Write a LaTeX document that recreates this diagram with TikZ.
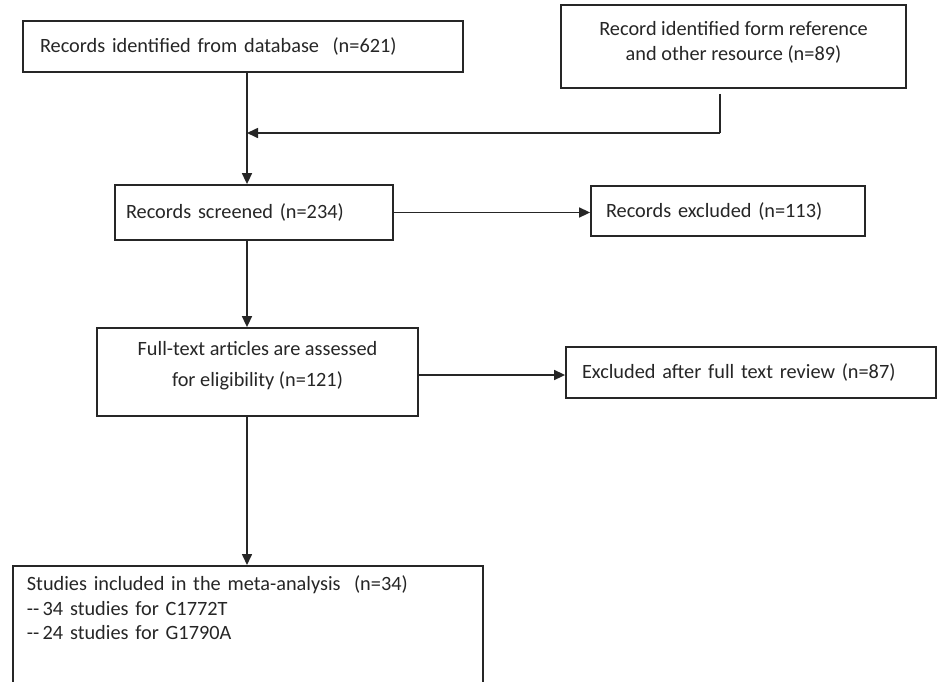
\documentclass[tikz,border=0pt]{standalone}
\usepackage{fontspec}
\setmainfont{Carlito}
\usepackage{tikz}
\usetikzlibrary{arrows.meta}
\definecolor{ink}{HTML}{262626}
\tikzstyle{box} = [rectangle, draw=ink, line width=1.8pt, inner ysep=0pt, text=ink, font=\fontsize{20.3}{24.5}\selectfont]
\tikzstyle{arrow} = [draw=ink, line width=1.6pt, -{Triangle[length=11pt,width=10pt]}]

\begin{document}
\begin{tikzpicture}[x=1pt,y=-1pt]
\useasboundingbox[fill=white] (0,0) rectangle (938,681);

\node[box, minimum width=440, minimum height=51, inner xsep=17pt, text width=406pt, align=left] (rec) at (243,46.5) {Records identified from database\ \ (n=621)};
\node[box, minimum width=345, minimum height=83, align=center] (oth) at (733.5,46.5) {Record identified form reference\\and other resource (n=89)\\[-21pt]\strut};
\node[box, minimum width=278, minimum height=55, inner xsep=11pt, text width=256pt, align=left] (scr) at (254,212.5) {Records screened (n=234)};
\node[box, minimum width=274, minimum height=50, inner xsep=15pt, text width=244pt, align=left] (exc1) at (728,211) {Records excluded (n=113)};
\node[box, minimum width=321, minimum height=88, align=center] (full) at (257.5,372) {Full-text articles are assessed\\[6pt]for eligibility (n=121)\\[-16pt]\strut};
\node[box, minimum width=370, minimum height=51, inner xsep=16pt, text width=338pt, align=left] (exc2) at (751,372.5) {Excluded after full text review (n=87)};
\node[box, anchor=north west, minimum width=470, inner xsep=14pt, inner ysep=10pt, text width=442pt, align=left] (incl) at (12,565) {Studies included in the meta-analysis\ \ (n=34)\\{-}{-}\,34 studies for C1772T\\{-}{-}\,24 studies for G1790A\\[60pt]\strut};

% main line and the joining line
\coordinate (spine) at (247,0);
\coordinate (join) at (720,133);

\draw[draw=ink, line width=1.6pt] ([yshift=-5pt]oth.south -| join) -- (join);
\draw[arrow] (join) -- (join -| spine);

\foreach \from/\to in {rec/scr,scr/full,full/incl}
{
	\draw[arrow] (\from.south -| spine) -- (\to.north -| spine);
}
\draw[arrow] (scr.east) -- (exc1.west |- scr.east);
\draw[arrow] ([yshift=-3pt]full.east) -- ([yshift=-3pt]exc2.west |- full.east);

\end{tikzpicture}
\end{document}
